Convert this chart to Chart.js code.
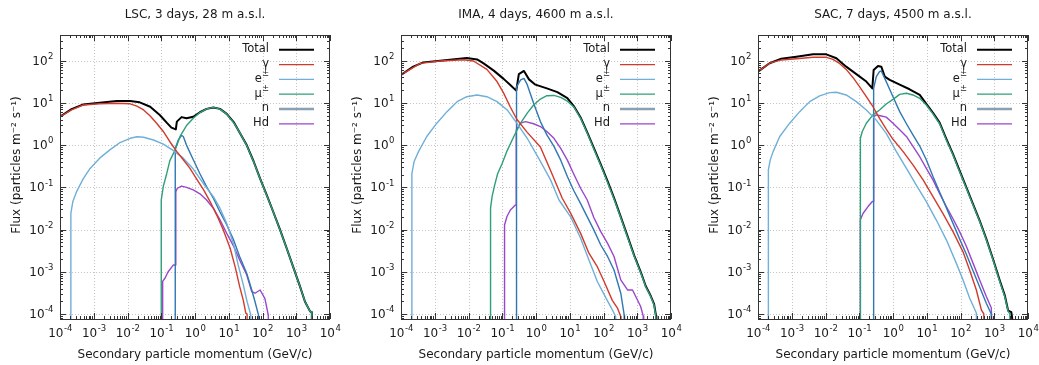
<!DOCTYPE html>
<html>
<head>
<meta charset="utf-8">
<script src="https://cdn.jsdelivr.net/npm/chart.js@4.4.0/dist/chart.umd.min.js"></script>
<style>
  body { margin: 0; background: #fff; width: 1039px; height: 365px; position: relative; overflow: hidden; }
  canvas { position: absolute; top: 0; }
</style>
</head>
<body>
<canvas id="lsc" width="346" height="365" style="left:0px"></canvas>
<canvas id="ima" width="345" height="365" style="left:341px"></canvas>
<canvas id="sac" width="341" height="365" style="left:698px"></canvas>
<script>
// empty histogram bin: sits below the bottom of the y axis
const EMPTY = 1e-6;

const xTicks = [1e-4, 1e-3, 1e-2, 1e-1, 1e0, 1e1, 1e2, 1e3, 1e4];
const xTickExps = ['-4', '-3', '-2', '-1', '0', '1', '2', '3', '4'];
const yTicks = [1e-4, 1e-3, 1e-2, 1e-1, 1e0, 1e1, 1e2];
const yTickExps = ['-4', '-3', '-2', '-1', '0', '1', '2'];
const seriesNames = ['Total', 'γ', 'e', 'μ', 'n', 'Hd'];
const seriesSup = ['', '', '±', '±', '', ''];
const xTitle = 'Secondary particle momentum (GeV/c)';
const yTitle = 'Flux (particles m⁻² s⁻¹)';

// [momentum GeV/c, flux particles m^-2 s^-1]
// LSC, 3 days, 28 m a.s.l.
const lscTotal = [[1e-4,4.7],[2.2e-4,7.1],[4.9e-4,9.2],[1.5e-3,10],[4.8e-3,11],[0.012,11.1],[0.023,10.3],[0.047,8.1],[0.092,5.1],[0.145,3.4],[0.2,2.6],[0.27,2.35],[0.29,3.6],[0.4,4.6],[0.56,4.3],[0.89,4.7],[1.4,6.0],[2.2,7.2],[3.5,7.8],[5.5,7.2],[8.7,5.5],[14,3.5],[21,2.0],[34,1.0],[54,0.42],[85,0.16],[132,0.067],[209,0.026],[330,0.0099],[520,3.6e-3],[810,1.3e-3],[1290,4.5e-4],[1820,1.95e-4],[2570,1.15e-4],[2900,1.1e-4],[2900,EMPTY]];
const lscGamma = [[1e-4,4.7],[2.2e-4,6.8],[4.9e-4,8.9],[1.5e-3,9.5],[4.8e-3,9.8],[0.012,9.5],[0.019,8.4],[0.03,6.8],[0.047,4.9],[0.073,3.3],[0.115,2.1],[0.18,1.2],[0.29,0.7],[0.45,0.45],[0.71,0.28],[1.1,0.16],[1.8,0.087],[2.8,0.046],[4.4,0.022],[6.9,9.8e-3],[11,3.6e-3],[15.5,1.3e-3],[21,4.5e-4],[27,2.1e-4],[32,1.05e-4],[35,1e-4],[35,EMPTY]];
const lscE = [[2.1e-4,EMPTY],[2.1e-4,0.024],[2.4e-4,0.046],[3.1e-4,0.079],[4.9e-4,0.16],[7.8e-4,0.28],[1.5e-3,0.49],[3e-3,0.77],[6e-3,1.15],[0.012,1.45],[0.019,1.58],[0.03,1.53],[0.059,1.32],[0.115,1.05],[0.23,0.74],[0.45,0.49],[0.89,0.27],[1.8,0.12],[3.5,0.06],[5.5,0.032],[8.7,0.014],[14,4.4e-3],[19,1.45e-3],[27,4.9e-4],[35,1.95e-4],[45,9.5e-5],[47,EMPTY]];
const lscMu = [[0.1,EMPTY],[0.1,0.05],[0.115,0.105],[0.145,0.21],[0.18,0.43],[0.26,0.77],[0.36,1.6],[0.56,2.9],[0.89,4.3],[1.4,5.9],[2.2,7.2],[3.5,7.8],[5.5,7.1],[8.7,5.4],[14,3.4],[21,2.0],[34,0.98],[54,0.41],[85,0.16],[132,0.066],[209,0.026],[330,0.0098],[520,3.6e-3],[810,1.3e-3],[1290,4.5e-4],[1820,1.95e-4],[2570,1.15e-4],[2900,1.1e-4],[2900,EMPTY]];
const lscN = [[0.26,EMPTY],[0.26,0.84],[0.32,1.32],[0.4,1.7],[0.45,1.6],[0.56,1.0],[0.89,0.45],[1.4,0.21],[2.2,0.104],[3.5,0.055],[5.5,0.026],[8.7,0.013],[14,5.6e-3],[21,2.3e-3],[34,9.2e-4],[48,3.7e-4],[60,1.95e-4],[76,9.5e-5],[80,EMPTY]];
const lscHd = [[0.11,EMPTY],[0.11,5.9e-4],[0.13,7.1e-4],[0.16,1e-3],[0.23,1.45e-3],[0.27,1.45e-3],[0.27,0.079],[0.3,0.095],[0.4,0.107],[0.56,0.1],[0.89,0.087],[1.4,0.07],[2.2,0.05],[3.5,0.032],[5.5,0.017],[8.7,8.1e-3],[14,4e-3],[21,1.9e-3],[34,8.5e-4],[48,3.4e-4],[60,3.1e-4],[85,3.7e-4],[118,2.3e-4],[148,9.5e-5],[170,EMPTY]];

// IMA, 4 days, 4600 m a.s.l.
const imaTotal = [[1e-4,46],[2.3e-4,72],[4.6e-4,91],[1.45e-3,100],[4.6e-3,110],[8.9e-3,116],[0.018,107],[0.028,86],[0.056,58],[0.11,37],[0.17,27],[0.26,19.5],[0.31,48],[0.44,57],[0.62,36],[0.96,27],[2.1,22],[4.3,18],[8.5,13],[13,8.5],[21,4.5],[33,2.0],[52,0.85],[83,0.35],[132,0.14],[205,0.056],[325,0.02],[515,7e-3],[815,2.4e-3],[1290,9.5e-4],[1780,4.6e-4],[2500,2.7e-4],[3160,1.7e-4],[3600,9e-5],[3700,EMPTY]];
const imaGamma = [[1e-4,46],[3.7e-4,86],[1.45e-3,98],[7.1e-3,105],[0.014,98],[0.035,62],[0.07,32],[0.11,17],[0.17,8.2],[0.27,4.1],[0.55,2.0],[1.35,0.9],[2.7,0.25],[6,0.055],[10.6,0.0245],[21,8.1e-3],[37,2.75e-3],[66,1.3e-3],[105,5.8e-4],[182,2.1e-4],[257,1.4e-4],[325,8.7e-5],[330,EMPTY]];
const imaE = [[2.1e-4,EMPTY],[2.1e-4,0.21],[2.45e-4,0.41],[3.3e-4,0.7],[5.8e-4,1.6],[1.15e-3,3.3],[2.3e-3,6.2],[4.6e-3,10.7],[8.9e-3,14],[0.018,15.4],[0.035,14],[0.07,10.7],[0.14,6.8],[0.27,3.3],[0.55,1.45],[1.35,0.41],[2.7,0.15],[4.8,0.05],[10.6,0.02],[21,6.2e-3],[37,1.9e-3],[66,5.8e-4],[129,2.1e-4],[170,1.4e-4],[229,8.7e-5],[235,EMPTY]];
const imaMu = [[0.045,EMPTY],[0.045,0.032],[0.05,0.06],[0.059,0.11],[0.073,0.21],[0.1,0.37],[0.14,0.74],[0.22,1.6],[0.35,3.3],[0.55,5.7],[0.85,8.9],[1.35,12.3],[2.1,14.8],[3.4,15],[5.4,13.5],[8.5,11],[13,8.1],[21,4.3],[33,1.9],[52,0.8],[83,0.33],[132,0.13],[205,0.053],[325,0.019],[515,6.6e-3],[815,2.3e-3],[1290,9.1e-4],[1780,4.4e-4],[2500,2.6e-4],[3160,1.6e-4],[3550,8.7e-5],[3600,EMPTY]];
const imaN = [[0.26,EMPTY],[0.26,18.6],[0.27,24],[0.35,35],[0.44,38],[0.55,27],[0.85,9.8],[1.35,3.6],[2.1,1.75],[3.4,0.93],[5.4,0.44],[8.5,0.18],[13,0.085],[21,0.041],[33,0.02],[52,9.7e-3],[83,4.3e-3],[132,2.3e-3],[205,1.1e-3],[325,3.1e-4],[410,9.5e-5],[420,EMPTY]];
const imaHd = [[0.117,EMPTY],[0.117,0.0128],[0.138,0.0204],[0.174,0.029],[0.245,0.038],[0.26,0.038],[0.26,2.3],[0.35,3.3],[0.49,3.6],[0.85,3.2],[1.35,2.75],[2.1,2.1],[3.4,1.45],[5.4,0.84],[8.5,0.44],[13,0.21],[21,0.095],[33,0.05],[52,0.019],[83,8.9e-3],[132,4.7e-3],[205,2.3e-3],[325,6.4e-4],[515,3.7e-4],[725,3.7e-4],[1260,1.5e-4],[1500,9e-5],[1550,EMPTY]];

// SAC, 7 days, 4500 m a.s.l.
const sacTotal = [[1e-4,55],[2.2e-4,87],[4.9e-4,111],[1.37e-3,124],[4.3e-3,141],[0.0106,141],[0.021,114],[0.041,72],[0.082,48],[0.162,32],[0.244,22],[0.267,60],[0.36,75],[0.45,72],[0.57,42],[0.8,35],[1.58,27],[3.1,21],[6.2,15.4],[9.7,9.5],[15.3,5.8],[24,3.4],[38,1.4],[60,0.61],[94,0.25],[149,0.1],[235,0.04],[372,0.016],[582,6e-3],[918,2e-3],[1450,6.3e-4],[2040,2.8e-4],[2580,1.2e-4],[3200,1.1e-4],[3400,8e-5],[3400,EMPTY]];
const sacGamma = [[1e-4,55],[2.2e-4,87],[4.9e-4,104],[1.37e-3,111],[4.3e-3,120],[0.0106,120],[0.0166,107],[0.026,86],[0.041,62],[0.065,40],[0.103,24],[0.162,14],[0.255,8.1],[0.4,4.3],[0.63,2.4],[1.0,1.37],[2.0,0.7],[3.9,0.34],[7.8,0.15],[15.3,0.06],[30,0.024],[60,8.9e-3],[118,3e-3],[186,1.1e-3],[295,3.7e-4],[415,1.25e-4],[490,1e-4],[490,EMPTY]];
const sacE = [[2.03e-4,EMPTY],[2.03e-4,0.26],[2.3e-4,0.44],[2.8e-4,0.7],[4.4e-4,1.6],[8.7e-4,3.3],[1.72e-3,6.2],[3.4e-3,10.7],[6.7e-3,14.6],[0.0133,17.5],[0.021,17.8],[0.041,15.4],[0.082,10.7],[0.162,6.8],[0.32,3.9],[0.63,1.9],[1.26,0.7],[2.5,0.28],[4.9,0.113],[9.7,0.046],[19,0.017],[38,5.7e-3],[75,1.6e-3],[119,6.4e-4],[186,2.4e-4],[295,1.05e-4],[330,EMPTY]];
const sacMu = [[0.108,EMPTY],[0.108,1.45],[0.123,2.1],[0.162,3.3],[0.255,5.2],[0.4,6.8],[0.63,9.4],[1.0,12.1],[1.58,15.9],[2.5,16.9],[3.9,15.4],[6.2,12.8],[9.7,8.9],[15.3,5.5],[24,3.2],[38,1.32],[60,0.58],[94,0.235],[149,0.095],[235,0.038],[372,0.0155],[582,5.7e-3],[918,1.9e-3],[1450,5.9e-4],[2040,2.6e-4],[2580,1.15e-4],[2900,1e-4],[2900,EMPTY]];
const sacN = [[0.267,EMPTY],[0.267,22],[0.32,42],[0.4,55],[0.45,57],[0.57,38],[1.0,14],[1.58,6.2],[2.5,3.2],[3.9,1.74],[6.2,0.95],[9.7,0.45],[15.3,0.18],[24,0.077],[38,0.033],[60,0.014],[94,6e-3],[149,2.6e-3],[235,1.05e-3],[372,4.3e-4],[582,1.8e-4],[815,1e-4],[910,EMPTY]];
const sacHd = [[0.108,EMPTY],[0.108,0.017],[0.129,0.024],[0.182,0.035],[0.244,0.046],[0.267,0.046],[0.267,4.7],[0.32,5.2],[0.45,4.9],[0.63,4.6],[1.0,3.3],[1.58,2.3],[2.5,1.6],[3.9,0.93],[6.2,0.53],[9.7,0.28],[15.3,0.15],[24,0.072],[38,0.035],[60,0.018],[94,8.9e-3],[149,4e-3],[235,1.6e-3],[372,6.3e-4],[582,2.6e-4],[815,1.4e-4],[1020,EMPTY]];

const lineColors = ['#000000', '#d13b2c', '#6fafd8', '#2e9f78', '#2f78b3', '#9a46cc'];
const lineWidths = [2, 1.4, 1.4, 1.4, 1.4, 1.4];
const legendColors = ['#000000', '#d13b2c', '#6fafd8', '#2e9f78', '#8aa0b4', '#9a46cc'];
const legendWidths = [2, 1.3, 1.3, 1.3, 2.6, 1.3];

const FONT = 'DejaVu Sans';
const TEXT = '#1a1a1a';

const panels = [
  { id: 'lsc', title: 'LSC, 3 days, 28 m a.s.l.', series: [lscTotal, lscGamma, lscE, lscMu, lscN, lscHd], padRight: 16 },
  { id: 'ima', title: 'IMA, 4 days, 4600 m a.s.l.', series: [imaTotal, imaGamma, imaE, imaMu, imaN, imaHd], padRight: 15 },
  { id: 'sac', title: 'SAC, 7 days, 4500 m a.s.l.', series: [sacTotal, sacGamma, sacE, sacMu, sacN, sacHd], padRight: 11 }
];

// minor tick values for a log axis between lo and hi
function minorTicks(lo, hi) {
  const out = [];
  for (let d = Math.floor(Math.log10(lo)); d <= Math.ceil(Math.log10(hi)); d++) {
    for (let m = 2; m <= 9; m++) {
      const v = m * Math.pow(10, d);
      if (v > lo && v < hi) out.push(v);
    }
  }
  return out;
}

// "10" with a raised exponent; align 'center' or 'right' on x
function drawPower(ctx, exp, x, y, align) {
  ctx.font = '12px "' + FONT + '"';
  const wBase = ctx.measureText('10').width;
  ctx.font = '8.5px "' + FONT + '"';
  const wExp = ctx.measureText(exp).width;
  const left = align === 'right' ? x - wBase - wExp : x - (wBase + wExp) / 2;
  ctx.textAlign = 'left';
  ctx.textBaseline = 'middle';
  ctx.font = '12px "' + FONT + '"';
  ctx.fillText('10', left, y);
  ctx.font = '8.5px "' + FONT + '"';
  ctx.fillText(exp, left + wBase + 0.5, y - 5);
}

// gnuplot-like frame: dotted grid, inward ticks on all four sides, labels, legend, title
const framePlugin = {
  id: 'frame',
  beforeDatasetsDraw(chart) {
    const { ctx, chartArea: a, scales: { x, y } } = chart;
    ctx.save();
    ctx.strokeStyle = '#c4c4c4';
    ctx.lineWidth = 1;
    ctx.setLineDash([1, 2]);
    xTicks.forEach(v => {
      const px = Math.round(x.getPixelForValue(v)) + 0.5;
      if (px <= a.left + 1 || px >= a.right - 1) return;
      ctx.beginPath(); ctx.moveTo(px, a.top); ctx.lineTo(px, a.bottom); ctx.stroke();
    });
    yTicks.forEach(v => {
      const py = Math.round(y.getPixelForValue(v)) + 0.5;
      if (py <= a.top + 1 || py >= a.bottom - 1) return;
      ctx.beginPath(); ctx.moveTo(a.left, py); ctx.lineTo(a.right, py); ctx.stroke();
    });
    ctx.restore();
  },
  afterDatasetsDraw(chart) {
    const { ctx, chartArea: a, scales: { x, y } } = chart;
    ctx.save();
    ctx.strokeStyle = '#333';
    ctx.lineWidth = 1;
    const tick = (x1, y1, x2, y2) => { ctx.beginPath(); ctx.moveTo(x1, y1); ctx.lineTo(x2, y2); ctx.stroke(); };
    const xTick = (v, len) => {
      const px = Math.round(x.getPixelForValue(v)) + 0.5;
      tick(px, a.bottom, px, a.bottom - len);
      tick(px, a.top, px, a.top + len);
    };
    const yTick = (v, len) => {
      const py = Math.round(y.getPixelForValue(v)) + 0.5;
      tick(a.left, py, a.left + len, py);
      tick(a.right, py, a.right - len, py);
    };
    xTicks.forEach(v => xTick(v, 6));
    minorTicks(x.min, x.max).forEach(v => xTick(v, 3));
    yTicks.forEach(v => yTick(v, 6));
    minorTicks(y.min, y.max).forEach(v => yTick(v, 3));
    ctx.strokeRect(a.left + 0.5, a.top + 0.5, a.right - a.left - 1, a.bottom - a.top);

    // tick labels
    ctx.fillStyle = TEXT;
    xTicks.forEach((v, i) => drawPower(ctx, xTickExps[i], x.getPixelForValue(v), a.bottom + 15, 'center'));
    yTicks.forEach((v, i) => drawPower(ctx, yTickExps[i], a.left - 7, y.getPixelForValue(v) + 1, 'right'));
    ctx.restore();
  },
  afterDraw(chart, args, opts) {
    const { ctx, chartArea: a } = chart;
    ctx.save();
    ctx.fillStyle = TEXT;
    ctx.font = '12px "' + FONT + '"';
    ctx.textAlign = 'center';
    ctx.textBaseline = 'middle';
    ctx.fillText(opts.title, (a.left + a.right) / 2, 15);
    ctx.fillText(xTitle, (a.left + a.right) / 2, 355);
    ctx.save();
    ctx.translate(a.left - 43, 165);
    ctx.rotate(-Math.PI / 2);
    ctx.fillText(yTitle, 0, 0);
    ctx.restore();

    // legend: label right-aligned, sample line to the right
    seriesNames.forEach((name, i) => {
      const rowY = a.top + 14.3 + i * 14.8;
      const textRight = a.right - 61;
      ctx.font = '8.5px "' + FONT + '"';
      const supW = seriesSup[i] ? ctx.measureText(seriesSup[i]).width : 0;
      if (seriesSup[i]) {
        ctx.textAlign = 'right';
        ctx.fillText(seriesSup[i], textRight, rowY - 5);
      }
      ctx.font = '11.5px "' + FONT + '"';
      ctx.textAlign = 'right';
      ctx.fillText(name, textRight - supW, rowY);
      ctx.strokeStyle = legendColors[i];
      ctx.lineWidth = legendWidths[i];
      ctx.beginPath();
      ctx.moveTo(a.right - 51, rowY + 0.5);
      ctx.lineTo(a.right - 16, rowY + 0.5);
      ctx.stroke();
    });
    ctx.restore();
  }
};

Chart.defaults.font.family = FONT;
Chart.defaults.font.size = 12;
Chart.defaults.color = TEXT;

panels.forEach(p => {
  new Chart(document.getElementById(p.id), {
    type: 'line',
    data: {
      datasets: p.series.map((d, i) => ({
        label: seriesNames[i] + seriesSup[i],
        data: d,
        borderColor: lineColors[i],
        borderWidth: lineWidths[i],
        borderJoinStyle: 'round',
        pointRadius: 0,
        fill: false,
        tension: 0,
        order: i === 0 ? 10 : 0
      }))
    },
    options: {
      responsive: false,
      animation: false,
      events: [],
      layout: { padding: { top: 35, right: p.padRight, left: 0, bottom: 0 } },
      plugins: {
        legend: { display: false },
        tooltip: { enabled: false },
        frame: { title: p.title }
      },
      scales: {
        x: {
          type: 'logarithmic',
          min: 1e-4,
          max: 1e4,
          grid: { display: false, drawTicks: false },
          border: { display: false },
          afterBuildTicks: s => { s.ticks = xTicks.map(v => ({ value: v })); },
          afterFit: s => { s.height = 46; },
          ticks: { display: false }
        },
        y: {
          type: 'logarithmic',
          min: 7.6e-5,
          max: 405,
          grid: { display: false, drawTicks: false },
          border: { display: false },
          afterBuildTicks: s => { s.ticks = yTicks.map(v => ({ value: v })); },
          afterFit: s => { s.width = 60; },
          ticks: { display: false }
        }
      }
    },
    plugins: [framePlugin]
  });
});
</script>
</body>
</html>
